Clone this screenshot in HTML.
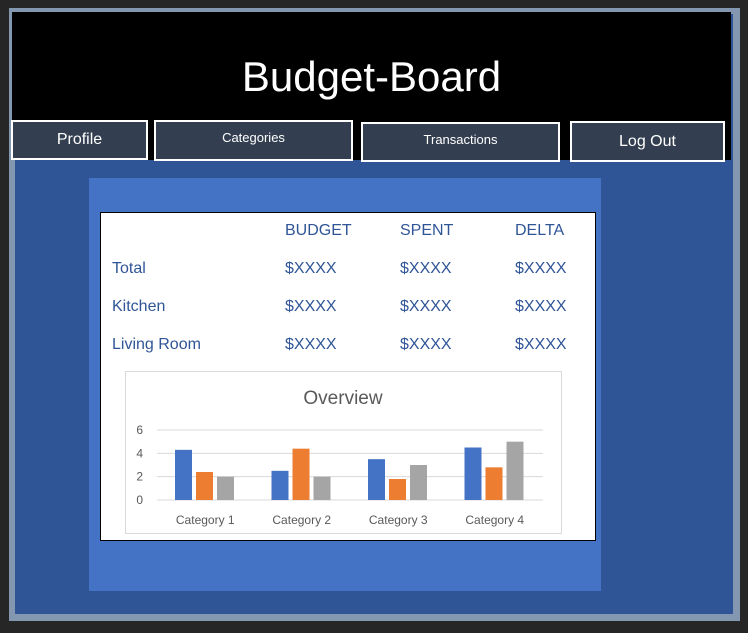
<!DOCTYPE html>
<html><head><meta charset="utf-8"><style>
body{margin:0;width:748px;height:633px;background:#262626;position:relative;overflow:hidden;font-family:"Liberation Sans",sans-serif}
.a{position:absolute;box-sizing:border-box}
.btn{border:2px solid #fff;background:#333f50;color:#fff;text-align:center;font-size:13px}
.t{position:absolute;color:#2f5597;font-size:16px}
</style></head><body>
<div class="a" style="left:9px;top:8px;width:731px;height:613px;background:#8497b0"></div>
<div class="a" style="left:15px;top:14px;width:718px;height:600px;background:#2f5597"></div>
<div class="a" style="left:12px;top:12px;width:719px;height:148px;background:#000"></div>
<div class="a" style="left:12px;top:53px;width:719px;text-align:center;color:#fff;font-size:42px;font-weight:300">Budget-Board</div>
<div class="a btn" style="left:11px;top:120px;width:137px;height:40px;line-height:36px;font-size:16px">Profile</div>
<div class="a btn" style="left:154px;top:120px;width:199px;height:41px;line-height:32px">Categories</div>
<div class="a btn" style="left:361px;top:122px;width:199px;height:40px;line-height:32px">Transactions</div>
<div class="a btn" style="left:570px;top:121px;width:155px;height:41px;line-height:38px;font-size:16px">Log Out</div>
<div class="a" style="left:89px;top:178px;width:512px;height:413px;background:#4472c4"></div>
<div class="a" style="left:100px;top:212px;width:496px;height:329px;background:#fff;border:1px solid #000"></div>
<div>
<div class="t" style="left:285px;top:222px">BUDGET</div><div class="t" style="left:400px;top:222px">SPENT</div><div class="t" style="left:515px;top:222px">DELTA</div>
<div class="t" style="left:112px;top:260px">Total</div><div class="t" style="left:285px;top:260px">$XXXX</div><div class="t" style="left:400px;top:260px">$XXXX</div><div class="t" style="left:515px;top:260px">$XXXX</div>
<div class="t" style="left:112px;top:298px">Kitchen</div><div class="t" style="left:285px;top:298px">$XXXX</div><div class="t" style="left:400px;top:298px">$XXXX</div><div class="t" style="left:515px;top:298px">$XXXX</div>
<div class="t" style="left:112px;top:336px">Living Room</div><div class="t" style="left:285px;top:336px">$XXXX</div><div class="t" style="left:400px;top:336px">$XXXX</div><div class="t" style="left:515px;top:336px">$XXXX</div>
</div>
<svg class="a" style="left:125px;top:371px" width="437" height="163" id="ch"></svg>
<script>
const categories=["Category 1","Category 2","Category 3","Category 4"];
const series1=[4.3,2.5,3.5,4.5];
const series2=[2.4,4.4,1.8,2.8];
const series3=[2,2,3,5];
const ticks=[0,2,4,6];
const colors=["#4472c4","#ed7d31","#a5a5a5"];
const svg=document.getElementById('ch');const NS="http://www.w3.org/2000/svg";
function mk(t,a,txt){const e=document.createElementNS(NS,t);for(const k in a)e.setAttribute(k,a[k]);if(txt!==undefined)e.textContent=txt;svg.appendChild(e);return e;}
const x0=32,x1=418,y0=129,ymax=6,ph=70;
const y=v=>y0-v/ymax*ph;
const gw=(x1-x0)/categories.length;
let r=mk('rect',{x:0.5,y:0.5,width:436,height:162,fill:'#fff',stroke:'#d9d9d9'});


let tt=mk('text',{x:218,y:33,'text-anchor':'middle','font-size':19,fill:'#595959','font-family':'Liberation Sans'},'Overview');


ticks.forEach(t=>{
 let g=mk('line',{x1:x0,x2:x1,y1:y(t),y2:y(t),stroke:'#d9d9d9'});
 
 
 let l=mk('text',{x:18,y:y(t)+4,'text-anchor':'end','font-size':12,fill:'#595959','font-family':'Liberation Sans'},t);
 
 
});
const all=[series1,series2,series3];
categories.forEach((c,i)=>{
 all.forEach((s,j)=>{
  const bx=x0+gw*i+18+j*21;
  let b=mk('rect',{x:bx,y:y(s[i]),width:17,height:y0-y(s[i]),fill:colors[j]});
  
  
 });
 let l=mk('text',{x:x0+gw*(i+0.5),y:153,'text-anchor':'middle','font-size':12,fill:'#595959','font-family':'Liberation Sans'},c);
 
 
});
</script>
</body></html>
